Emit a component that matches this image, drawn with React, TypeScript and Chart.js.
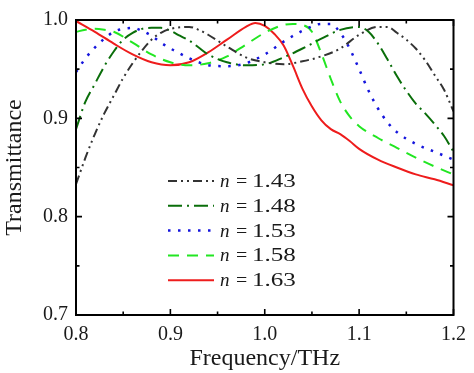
import React, { useEffect, useRef } from "react";
import { Chart, registerables } from "chart.js";

Chart.register(...registerables);

// ---- data ----
const xTickValues = [0.8, 0.9, 1.0, 1.1, 1.2];
const xMinorTicks = [0.85, 0.95, 1.05, 1.15];
const yTickValues = [0.7, 0.8, 0.9, 1.0];
const yMinorTicks = [0.75, 0.85, 0.95];

const indexLabels = ["1.43", "1.48", "1.53", "1.58", "1.63"];

const freq143 = [0.80, 0.81, 0.82, 0.83, 0.84, 0.85, 0.86, 0.87, 0.88, 0.89, 0.90, 0.92, 0.93, 0.94, 0.96, 0.98, 1.00, 1.02, 1.04, 1.06, 1.08, 1.10, 1.12, 1.13, 1.14, 1.15, 1.16, 1.17, 1.18, 1.19, 1.20];
const trans143 = [0.833, 0.860, 0.884, 0.905, 0.923, 0.941, 0.956, 0.969, 0.980, 0.987, 0.991, 0.993, 0.990, 0.985, 0.973, 0.962, 0.957, 0.955, 0.958, 0.963, 0.971, 0.985, 0.993, 0.993, 0.987, 0.980, 0.971, 0.959, 0.944, 0.929, 0.907];

const freq148 = [0.80, 0.81, 0.82, 0.83, 0.84, 0.85, 0.86, 0.87, 0.88, 0.89, 0.90, 0.91, 0.92, 0.93, 0.94, 0.96, 0.98, 1.00, 1.02, 1.04, 1.06, 1.08, 1.10, 1.11, 1.12, 1.13, 1.14, 1.15, 1.16, 1.17, 1.18, 1.19, 1.20];
const trans148 = [0.889, 0.917, 0.935, 0.953, 0.968, 0.980, 0.987, 0.991, 0.992, 0.992, 0.989, 0.984, 0.979, 0.972, 0.965, 0.957, 0.954, 0.955, 0.962, 0.971, 0.981, 0.990, 0.993, 0.988, 0.976, 0.960, 0.943, 0.928, 0.915, 0.905, 0.894, 0.882, 0.866];

const freq153 = [0.80, 0.81, 0.82, 0.83, 0.84, 0.85, 0.86, 0.87, 0.88, 0.89, 0.90, 0.91, 0.92, 0.93, 0.94, 0.96, 0.98, 1.00, 1.02, 1.04, 1.06, 1.07, 1.08, 1.09, 1.10, 1.11, 1.12, 1.13, 1.14, 1.16, 1.18, 1.20];
const trans153 = [0.947, 0.961, 0.972, 0.981, 0.988, 0.991, 0.992, 0.989, 0.984, 0.977, 0.971, 0.966, 0.961, 0.957, 0.954, 0.953, 0.956, 0.965, 0.978, 0.989, 0.996, 0.996, 0.987, 0.971, 0.950, 0.928, 0.910, 0.896, 0.886, 0.874, 0.866, 0.858];

const freq158 = [0.80, 0.81, 0.82, 0.83, 0.84, 0.86, 0.88, 0.90, 0.92, 0.94, 0.96, 0.98, 1.00, 1.02, 1.03, 1.04, 1.05, 1.06, 1.07, 1.08, 1.09, 1.10, 1.12, 1.14, 1.16, 1.18, 1.20];
const trans158 = [0.988, 0.990, 0.991, 0.990, 0.988, 0.977, 0.965, 0.957, 0.954, 0.956, 0.963, 0.975, 0.987, 0.995, 0.996, 0.995, 0.988, 0.966, 0.940, 0.917, 0.902, 0.892, 0.880, 0.870, 0.860, 0.851, 0.843];

const freq163 = [0.80, 0.82, 0.84, 0.86, 0.88, 0.90, 0.92, 0.94, 0.96, 0.98, 0.99, 1.00, 1.01, 1.02, 1.03, 1.04, 1.05, 1.06, 1.07, 1.08, 1.09, 1.10, 1.12, 1.14, 1.16, 1.18, 1.20];
const trans163 = [0.999, 0.988, 0.976, 0.965, 0.957, 0.954, 0.957, 0.967, 0.980, 0.993, 0.997, 0.994, 0.986, 0.974, 0.953, 0.930, 0.912, 0.898, 0.889, 0.884, 0.877, 0.869, 0.858, 0.850, 0.843, 0.838, 0.832];

const FONT = "'Liberation Serif', 'Times New Roman', serif";
const TEXT_COLOR = "#1a1a1a";

const toPoints = (xs: number[], ys: number[]) => xs.map((x, i) => ({ x, y: ys[i] }));

const framePlugin = {
  id: "frameTicks",
  afterDraw(chart: any) {
    const { ctx, chartArea, scales } = chart;
    const { left, right, top, bottom } = chartArea;
    const xs = scales.x;
    const ys = scales.y;
    ctx.save();
    ctx.strokeStyle = "#000";
    ctx.lineWidth = 2;
    ctx.strokeRect(left, top, right - left, bottom - top);
    ctx.lineWidth = 1.6;
    const drawX = (v: number, len: number) => {
      const p = xs.getPixelForValue(v);
      ctx.beginPath();
      ctx.moveTo(p, bottom);
      ctx.lineTo(p, bottom - len);
      ctx.moveTo(p, top);
      ctx.lineTo(p, top + len);
      ctx.stroke();
    };
    const drawY = (v: number, len: number) => {
      const p = ys.getPixelForValue(v);
      ctx.beginPath();
      ctx.moveTo(left, p);
      ctx.lineTo(left + len, p);
      ctx.moveTo(right, p);
      ctx.lineTo(right - len, p);
      ctx.stroke();
    };
    xTickValues.forEach((v) => drawX(v, 6));
    xMinorTicks.forEach((v) => drawX(v, 3.5));
    yTickValues.forEach((v) => drawY(v, 6));
    yMinorTicks.forEach((v) => drawY(v, 3.5));
    ctx.restore();
  },
};

const legendPlugin = {
  id: "innerLegend",
  afterDatasetsDraw(chart: any) {
    const { ctx, chartArea } = chart;
    const x0 = chartArea.left + 92;
    const x1 = x0 + 46;
    const y0 = chartArea.top + 161;
    const rowH = 24.8;
    const drawText = (text: string, x: number, y: number, font: string, sx: number) => {
      ctx.save();
      ctx.font = font;
      ctx.translate(x, y);
      ctx.scale(sx, 1);
      ctx.fillText(text, 0, 0);
      ctx.restore();
    };
    chart.data.datasets.forEach((ds: any, i: number) => {
      const y = y0 + i * rowH;
      ctx.save();
      ctx.strokeStyle = ds.borderColor;
      ctx.lineWidth = ds.borderWidth;
      ctx.setLineDash(ds.borderDash || []);
      ctx.lineCap = "butt";
      ctx.beginPath();
      ctx.moveTo(x0, y);
      ctx.lineTo(x1, y);
      ctx.stroke();
      ctx.setLineDash([]);
      ctx.fillStyle = TEXT_COLOR;
      ctx.textBaseline = "middle";
      ctx.textAlign = "left";
      drawText("n", x1 + 6, y + 1, `italic 19px ${FONT}`, 1);
      drawText("=", x1 + 22, y + 1, `19px ${FONT}`, 1.05);
      drawText(indexLabels[i], x1 + 38, y + 1, `19px ${FONT}`, 1.32);
      ctx.restore();
    });
  },
};

export default function App() {
  const canvasRef = useRef<HTMLCanvasElement | null>(null);

  useEffect(() => {
    const canvas = canvasRef.current;
    if (!canvas) return;
    const common = { fill: false, pointRadius: 0, cubicInterpolationMode: "monotone" as const };
    const chart = new Chart(canvas, {
      type: "line",
      data: {
        datasets: [
          { ...common, label: "n = " + indexLabels[0], data: toPoints(freq143, trans143), borderColor: "#333333", borderWidth: 2, borderDash: [9, 4, 2, 4, 2, 4] },
          { ...common, label: "n = " + indexLabels[1], data: toPoints(freq148, trans148), borderColor: "#0a6e0a", borderWidth: 2, borderDash: [14, 5, 2, 5] },
          { ...common, label: "n = " + indexLabels[2], data: toPoints(freq153, trans153), borderColor: "#1515dd", borderWidth: 2.5, borderDash: [2.5, 7.5] },
          { ...common, label: "n = " + indexLabels[3], data: toPoints(freq158, trans158), borderColor: "#22e622", borderWidth: 2, borderDash: [11, 8] },
          { ...common, label: "n = " + indexLabels[4], data: toPoints(freq163, trans163), borderColor: "#ee1c1c", borderWidth: 2 },
        ],
      },
      options: {
        animation: false,
        responsive: false,
        devicePixelRatio: 1,
        layout: { padding: { left: 0, top: 11, right: 17, bottom: 0 } },
        plugins: { legend: { display: false }, tooltip: { enabled: false } },
        scales: {
          x: {
            type: "linear",
            min: 0.8,
            max: 1.2,
            afterBuildTicks: (s: any) => { s.ticks = xTickValues.map((v) => ({ value: v })); },
            afterFit: (s: any) => { s.height = 58; },
            ticks: { callback: (v: any) => Number(v).toFixed(1), font: { family: FONT, size: 20 }, color: TEXT_COLOR, padding: 8, maxRotation: 0 },
            grid: { display: false, drawTicks: false },
            border: { display: false },
            title: { display: true, text: "Frequency/THz", font: { family: FONT, size: 24 }, color: TEXT_COLOR, padding: { top: 0, bottom: 0 } },
          },
          y: {
            type: "linear",
            min: 0.7,
            max: 1.0,
            afterBuildTicks: (s: any) => { s.ticks = yTickValues.map((v) => ({ value: v })); },
            afterFit: (s: any) => { s.width = 76; },
            ticks: { callback: (v: any) => Number(v).toFixed(1), font: { family: FONT, size: 20 }, color: TEXT_COLOR, padding: 8 },
            grid: { display: false, drawTicks: false },
            border: { display: false },
            title: { display: true, text: "Transmittance", font: { family: FONT, size: 24 }, color: TEXT_COLOR, padding: { top: 0, bottom: 0 } },
          },
        },
      },
      plugins: [framePlugin, legendPlugin],
    });
    return () => chart.destroy();
  }, []);

  return (
    <div style={{ position: "absolute", left: 0, top: 0, width: 474, height: 373, background: "#fff" }}>
      <canvas ref={canvasRef} width={474} height={373} style={{ width: 474, height: 373 }} />
    </div>
  );
}
